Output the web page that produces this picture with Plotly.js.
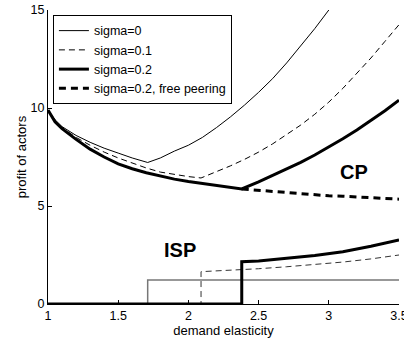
<!DOCTYPE html>
<html>
<head>
<meta charset="utf-8">
<script src="https://cdn.plot.ly/plotly-3.0.1.min.js"></script>
<style>html,body{margin:0;padding:0;background:#fff;}#chart{width:404px;height:344px;}</style>
</head>
<body>
<div id="chart"></div>
<script>
// CP profit curves
const cpX0 = [1,1.05,1.1,1.2,1.3,1.4,1.5,1.6,1.71,1.8,1.9,2.0,2.1,2.2,2.3,2.4,2.5,2.6,2.7,2.8,2.9,3.0];
const cpY0 = [9.9,9.4,9.05,8.6,8.25,7.95,7.7,7.45,7.22,7.45,7.8,8.1,8.5,9.0,9.55,10.15,10.8,11.5,12.3,13.15,14.05,15.0];

const cpX1 = [1,1.05,1.1,1.2,1.3,1.4,1.5,1.6,1.7,1.8,1.9,2.0,2.09,2.2,2.3,2.4,2.5,2.6,2.7,2.8,2.9,3.0,3.1,3.2,3.3,3.4,3.5];
const cpY1 = [9.9,9.35,9.0,8.5,8.1,7.75,7.45,7.18,6.94,6.73,6.6,6.5,6.43,6.75,7.05,7.38,7.75,8.17,8.63,9.13,9.68,10.3,11.0,11.75,12.55,13.4,14.25];

const cpX2 = [1,1.05,1.1,1.2,1.3,1.4,1.5,1.6,1.7,1.8,1.9,2.0,2.1,2.2,2.3,2.38,2.5,2.6,2.7,2.8,2.9,3.0,3.1,3.2,3.3,3.4,3.5];
const cpY2 = [9.9,9.3,8.95,8.4,7.9,7.5,7.15,6.9,6.7,6.52,6.37,6.25,6.15,6.05,5.95,5.87,6.23,6.55,6.88,7.23,7.6,8.0,8.43,8.88,9.36,9.86,10.4];

const cpXfp = [2.38,2.5,2.6,2.7,2.8,2.9,3.0,3.1,3.2,3.3,3.4,3.5];
const cpYfp = [5.87,5.8,5.74,5.68,5.63,5.57,5.52,5.5,5.46,5.42,5.39,5.35];

// ISP profit curves
const ispX0 = [1,1.71,1.71,3.5];
const ispY0 = [0,0,1.22,1.22];
const ispX1 = [1,2.09,2.09,2.3,2.5,2.7,2.9,3.1,3.3,3.5];
const ispY1 = [0,0,1.65,1.72,1.8,1.9,2.01,2.14,2.3,2.5];
const ispX2 = [1,2.38,2.38,2.5,2.7,2.9,3.1,3.3,3.5];
const ispY2 = [0,0,2.16,2.2,2.33,2.48,2.67,2.95,3.27];

const names = ["sigma=0","sigma=0.1","sigma=0.2","sigma=0.2, free peering"];
const xTicks = [1,1.5,2,2.5,3,3.5];
const xTickText = ["1","1.5","2","2.5","3","3.5"];
const yTicks = [0,5,10,15];

const FONT = "Liberation Sans, Arial, Helvetica, sans-serif";

const traces = [
  {x: cpX0, y: cpY0, name: names[0], mode: "lines", line: {color: "#000", width: 1}},
  {x: cpX1, y: cpY1, name: names[1], mode: "lines", line: {color: "#000", width: 1, dash: "6px,4px"}},
  {x: cpX2, y: cpY2, name: names[2], mode: "lines", line: {color: "#000", width: 3}},
  {x: cpXfp, y: cpYfp, name: names[3], mode: "lines", line: {color: "#000", width: 3, dash: "7px,5px"}},
  {x: ispX0, y: ispY0, showlegend: false, mode: "lines", line: {color: "#777", width: 1.5}},
  {x: ispX1, y: ispY1, showlegend: false, mode: "lines", line: {color: "#333", width: 1, dash: "6px,4px"}},
  {x: ispX2, y: ispY2, showlegend: false, mode: "lines", line: {color: "#000", width: 3}}
];

const layout = {
  width: 404, height: 344,
  margin: {l: 48, r: 5, t: 10, b: 40},
  paper_bgcolor: "#fff", plot_bgcolor: "#fff",
  font: {family: FONT, size: 13, color: "#000"},
  showlegend: true,
  legend: {
    x: 0.014, y: 0.983, xanchor: "left", yanchor: "top",
    bgcolor: "#fff", bordercolor: "#000", borderwidth: 1,
    font: {family: FONT, size: 12.5, color: "#000"},
    tracegroupgap: 0, itemwidth: 30
  },
  xaxis: {
    range: [1, 3.5], tickvals: xTicks, ticktext: xTickText,
    showgrid: false, zeroline: false, showline: true, linecolor: "#000", linewidth: 1,
    ticks: "inside", ticklen: 4, tickcolor: "#000", mirror: false,
    ticklabeloverflow: "allow",
    tickfont: {family: FONT, size: 12.5, color: "#000"},
    title: {text: "demand elasticity", font: {family: FONT, size: 13, color: "#000"}, standoff: 1},
    automargin: false
  },
  yaxis: {
    range: [0, 15], tickvals: yTicks,
    showgrid: false, zeroline: false, showline: true, linecolor: "#000", linewidth: 1,
    ticks: "inside", ticklen: 4, tickcolor: "#000",
    ticklabeloverflow: "allow",
    tickfont: {family: FONT, size: 12.5, color: "#000"},
    title: {text: "profit of actors", font: {family: FONT, size: 13, color: "#000"}, standoff: 1},
    automargin: false
  },
  annotations: [
    {x: 3.18, y: 6.75, xref: "x", yref: "y", text: "<b>CP</b>", showarrow: false,
     font: {family: FONT, size: 20, color: "#000"}},
    {x: 1.94, y: 2.76, xref: "x", yref: "y", text: "<b>ISP</b>", showarrow: false,
     font: {family: FONT, size: 20, color: "#000"}}
  ]
};

Plotly.newPlot("chart", traces, layout, {staticPlot: true, displayModeBar: false});
</script>
</body>
</html>
